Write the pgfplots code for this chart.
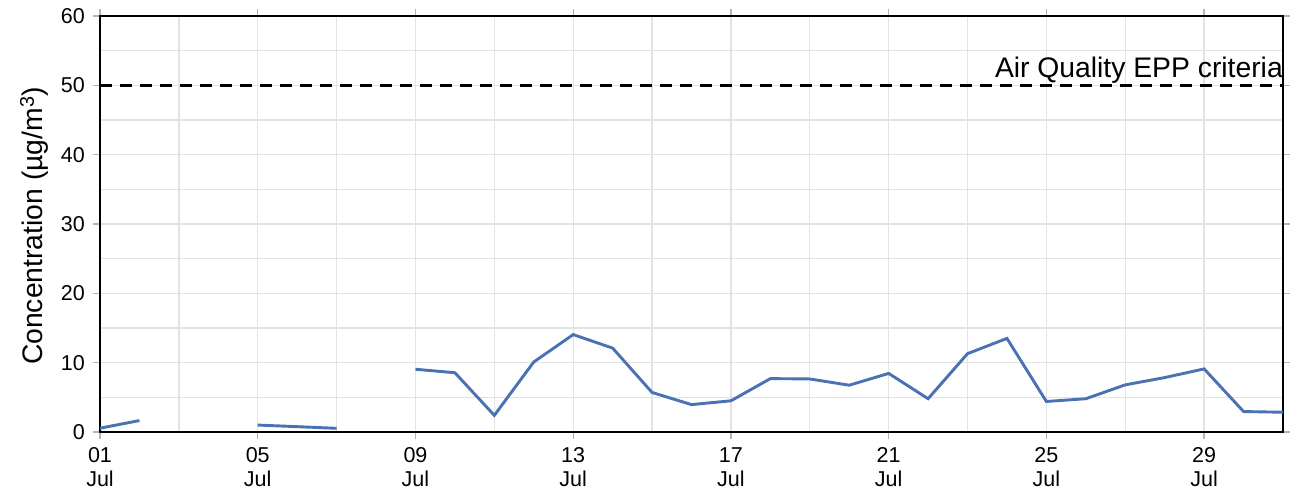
\documentclass[border=0pt]{standalone}
\usepackage{pgfplots}
\pgfplotsset{compat=1.18}
\usepackage{fontspec}
\setmainfont{Liberation Sans}
\definecolor{seriesblue}{HTML}{4A72B2}
\definecolor{gridgray}{HTML}{E3E3E3}
\definecolor{tickgray}{HTML}{B5B5B5}
\begin{document}
\begin{tikzpicture}
\begin{axis}[
  scale only axis,
  width=1183pt, height=416pt,
  xmin=1, xmax=31, ymin=0, ymax=60,
  xtick={1,5,9,13,17,21,25,29},
  xticklabels={{\strut 01\\Jul},{\strut 05\\Jul},{\strut 09\\Jul},{\strut 13\\Jul},{\strut 17\\Jul},{\strut 21\\Jul},{\strut 25\\Jul},{\strut 29\\Jul}},
  minor xtick={3,7,11,15,19,23,27,31},
  ytick={0,10,20,30,40,50,60},
  minor ytick={5,15,25,35,45,55},
  grid=both,
  major grid style={gridgray, line width=1.3pt},
  minor grid style={gridgray, line width=1.3pt},
  tick align=outside,
  major tick length=7pt,
  minor tick length=0pt,
  tick style={tickgray, line width=1.3pt},
  axis line style={black, line width=2pt},
  xticklabel style={align=center, font=\fontsize{21.5}{24}\selectfont, inner sep=0pt, anchor=north, yshift=-6.2pt},
  yticklabel style={font=\fontsize{21.5}{24}\selectfont, inner sep=0pt, xshift=-8pt},
  /pgf/number format/assume math mode=true,
  unbounded coords=jump,
  clip=false,
]
\addplot[black, line width=2.6pt, dash pattern=on 12pt off 8pt, forget plot] coordinates {(1,50) (31,50)};
\addplot[seriesblue, line width=2.9pt] coordinates {
(1,0.55) (2,1.65) (3,nan) (4,nan) (5,1.0) (6,0.77) (7,0.53) (8,nan)
(9,9.05) (10,8.55) (11,2.4) (12,10.1) (13,14.05) (14,12.1) (15,5.7) (16,3.95)
(17,4.5) (18,7.7) (19,7.65) (20,6.75) (21,8.45) (22,4.8) (23,11.3) (24,13.5)
(25,4.4) (26,4.8) (27,6.8) (28,7.85) (29,9.1) (30,2.95) (31,2.85)
};
\node[anchor=base east, inner xsep=0pt, inner ysep=0pt, font=\fontsize{28.3}{32}\selectfont] at (axis cs:31,50) [yshift=7.5pt] {Air Quality EPP criteria};
\node[xshift=-57pt, yshift=-2pt, rotate=90, anchor=base, inner sep=0pt, font=\fontsize{28.3}{32}\selectfont] at (rel axis cs:0,0.5) {Concentration (µg/m\textsuperscript{3})};
\end{axis}
\pgfresetboundingbox
\path (current axis.south west) ++(-100pt,-63pt) coordinate (bbA);
\path (current axis.north east) ++(13pt,16pt) coordinate (bbB);
\useasboundingbox (bbA) rectangle (bbB);
\end{tikzpicture}
\end{document}
